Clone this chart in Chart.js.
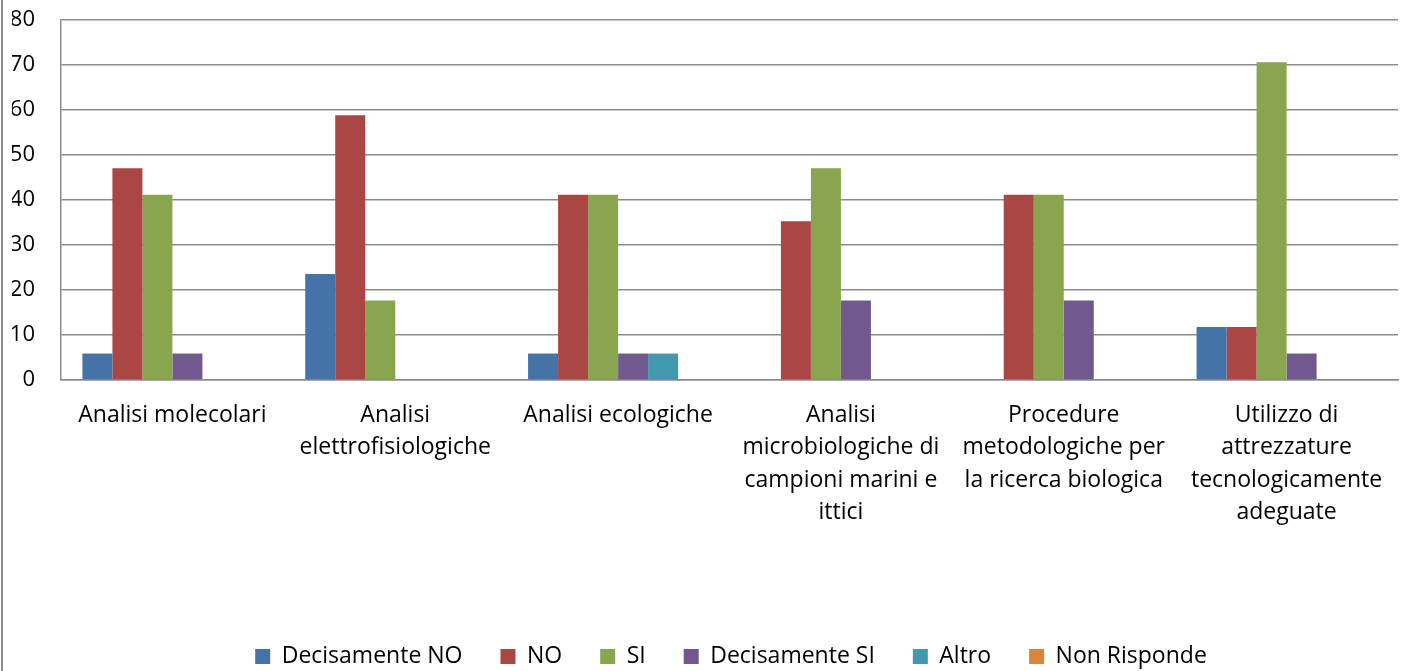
<!DOCTYPE html>
<html>
<head>
<meta charset="utf-8">
<script src="https://cdn.jsdelivr.net/npm/chart.js@4"></script>
<style>
  html, body { margin: 0; padding: 0; background: #fff; }
  #wrap { position: relative; width: 1405px; height: 671px; }
</style>
</head>
<body>
<div id="wrap"><canvas id="chart" width="1405" height="671"></canvas></div>
<script>
const categories = [
  "Analisi molecolari",
  ["Analisi", "elettrofisiologiche"],
  "Analisi ecologiche",
  ["Analisi", "microbiologiche di", "campioni marini e", "ittici"],
  ["Procedure", "metodologiche per", "la ricerca biologica"],
  ["Utilizzo di", "attrezzature", "tecnologicamente", "adeguate"],
];
const decisamenteNo = [5.88, 23.53, 5.88, 0, 0, 11.76];
const no = [47.06, 58.82, 41.18, 35.29, 41.18, 11.76];
const si = [41.18, 17.65, 41.18, 47.06, 41.18, 70.59];
const decisamenteSi = [5.88, 0, 5.88, 17.65, 17.65, 5.88];
const altro = [0, 0, 5.88, 0, 0, 0];
const nonRisponde = [0, 0, 0, 0, 0, 0];
const yTicks = [0, 10, 20, 30, 40, 50, 60, 70, 80];

const font = "Open Sans";

function series(label, data, color) {
  return { label: label, data: data, backgroundColor: color, borderWidth: 0 };
}

// grey frame line on the left edge + shift legend a bit to the right
const extras = {
  id: "extras",
  afterLayout(chart) {
    chart.legend.left += 26;
    chart.legend.right += 26;
  },
  afterDraw(chart) {
    const ctx = chart.ctx;
    ctx.save();
    ctx.strokeStyle = "#8c8c8c";
    ctx.lineWidth = 2;
    ctx.beginPath();
    ctx.moveTo(2, 0);
    ctx.lineTo(2, chart.height);
    ctx.stroke();
    ctx.restore();
  },
};

const config = {
  type: "bar",
  data: {
    labels: categories,
    datasets: [
      series("Decisamente NO", decisamenteNo, "#4572A7"),
      series("NO", no, "#AA4643"),
      series("SI", si, "#89A54E"),
      series("Decisamente SI", decisamenteSi, "#71588F"),
      series("Altro", altro, "#4198AF"),
      series("Non Risponde", nonRisponde, "#DB843D"),
    ],
  },
  options: {
    responsive: false,
    animation: false,
    layout: { padding: { left: 12, right: 7, top: 20, bottom: -7 } },
    datasets: { bar: { categoryPercentage: 0.808, barPercentage: 1.0 } },
    scales: {
      x: {
        grid: { display: false, drawTicks: false },
        border: { color: "#8c8c8c", width: 1.5 },
        ticks: {
          color: "#000",
          font: { family: font, size: 23, lineHeight: 1.41 },
          padding: 19,
          maxRotation: 0,
          autoSkip: false,
        },
        afterFit(axis) { axis.height = 227; },
      },
      y: {
        min: 0,
        max: 80,
        afterBuildTicks(axis) { axis.ticks = yTicks.map(v => ({ value: v })); },
        afterFit(axis) {
          axis.width = 49;
          axis.paddingTop = 0;
          axis.paddingBottom = 0;
        },
        grid: { color: "#8c8c8c", lineWidth: 1.5, drawTicks: false },
        border: { color: "#8c8c8c", width: 1.5 },
        ticks: {
          color: "#000",
          font: { family: font, size: 22 },
          padding: 26,
        },
      },
    },
    plugins: {
      legend: {
        position: "bottom",
        labels: {
          color: "#000",
          font: { family: font, size: 23 },
          boxWidth: 15,
          boxHeight: 15,
          padding: 38,
        },
      },
      tooltip: { enabled: false },
    },
  },
  plugins: [extras],
};

new Chart(document.getElementById("chart"), config);
</script>
</body>
</html>
